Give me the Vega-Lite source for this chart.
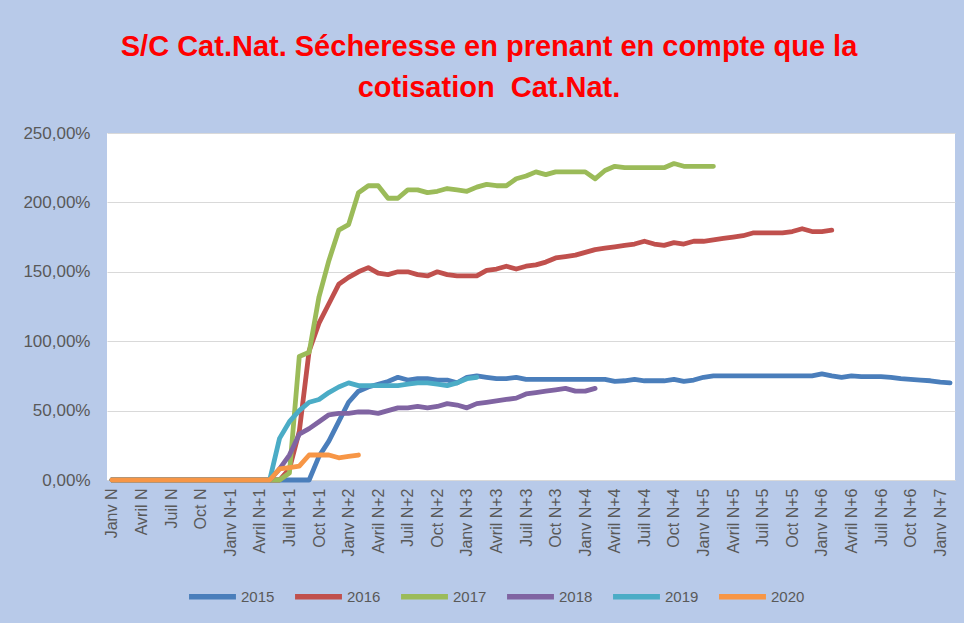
{
  "$schema": "https://vega.github.io/schema/vega-lite/v6.json",
  "width": 848,
  "height": 347,
  "autosize": {"type": "none"},
  "padding": {"left": 107, "top": 133, "right": 9, "bottom": 143},
  "background": "#b8cae9",
  "title": {
    "text": ["S/C Cat.Nat. Sécheresse en prenant en compte que la", "cotisation \u00a0Cat.Nat."],
    "anchor": "middle",
    "dx": -42,
    "offset": 21,
    "lineHeight": 41,
    "font": "Liberation Sans",
    "fontSize": 29,
    "fontWeight": "bold",
    "color": "#ff0000"
  },
  "data": {
    "values": [
      {"s":"2015","m":0,"v":0},{"s":"2015","m":1,"v":0},{"s":"2015","m":2,"v":0},{"s":"2015","m":3,"v":0},{"s":"2015","m":4,"v":0},{"s":"2015","m":5,"v":0},{"s":"2015","m":6,"v":0},{"s":"2015","m":7,"v":0},{"s":"2015","m":8,"v":0},{"s":"2015","m":9,"v":0},{"s":"2015","m":10,"v":0},{"s":"2015","m":11,"v":0},{"s":"2015","m":12,"v":0},{"s":"2015","m":13,"v":0},{"s":"2015","m":14,"v":0},{"s":"2015","m":15,"v":0},{"s":"2015","m":16,"v":0},{"s":"2015","m":17,"v":0},{"s":"2015","m":18,"v":0},{"s":"2015","m":19,"v":0},{"s":"2015","m":20,"v":0},
      {"s":"2015","m":21,"v":17},{"s":"2015","m":22,"v":28},{"s":"2015","m":23,"v":42},{"s":"2015","m":24,"v":56},{"s":"2015","m":25,"v":64},{"s":"2015","m":26,"v":67},{"s":"2015","m":27,"v":69},{"s":"2015","m":28,"v":71},{"s":"2015","m":29,"v":74},{"s":"2015","m":30,"v":72},
      {"s":"2015","m":31,"v":73},{"s":"2015","m":32,"v":73},{"s":"2015","m":33,"v":72},{"s":"2015","m":34,"v":72},{"s":"2015","m":35,"v":70},{"s":"2015","m":36,"v":74},{"s":"2015","m":37,"v":75},{"s":"2015","m":38,"v":74},{"s":"2015","m":39,"v":73},{"s":"2015","m":40,"v":73},
      {"s":"2015","m":41,"v":74},{"s":"2015","m":42,"v":72.5},{"s":"2015","m":43,"v":72.5},{"s":"2015","m":44,"v":72.5},{"s":"2015","m":45,"v":72.5},{"s":"2015","m":46,"v":72.5},{"s":"2015","m":47,"v":72.5},{"s":"2015","m":48,"v":72.5},{"s":"2015","m":49,"v":72.5},{"s":"2015","m":50,"v":72.5},
      {"s":"2015","m":51,"v":71},{"s":"2015","m":52,"v":71.5},{"s":"2015","m":53,"v":72.5},{"s":"2015","m":54,"v":71.5},{"s":"2015","m":55,"v":71.5},{"s":"2015","m":56,"v":71.5},{"s":"2015","m":57,"v":72.5},{"s":"2015","m":58,"v":71},{"s":"2015","m":59,"v":72},{"s":"2015","m":60,"v":74},
      {"s":"2015","m":61,"v":75},{"s":"2015","m":62,"v":75},{"s":"2015","m":63,"v":75},{"s":"2015","m":64,"v":75},{"s":"2015","m":65,"v":75},{"s":"2015","m":66,"v":75},{"s":"2015","m":67,"v":75},{"s":"2015","m":68,"v":75},{"s":"2015","m":69,"v":75},{"s":"2015","m":70,"v":75},
      {"s":"2015","m":71,"v":75},{"s":"2015","m":72,"v":76.5},{"s":"2015","m":73,"v":75},{"s":"2015","m":74,"v":74},{"s":"2015","m":75,"v":75},{"s":"2015","m":76,"v":74.5},{"s":"2015","m":77,"v":74.5},{"s":"2015","m":78,"v":74.5},{"s":"2015","m":79,"v":74},{"s":"2015","m":80,"v":73},
      {"s":"2015","m":81,"v":72.5},{"s":"2015","m":82,"v":72},{"s":"2015","m":83,"v":71.5},{"s":"2015","m":84,"v":70.5},{"s":"2015","m":85,"v":70},

      {"s":"2016","m":0,"v":0},{"s":"2016","m":1,"v":0},{"s":"2016","m":2,"v":0},{"s":"2016","m":3,"v":0},{"s":"2016","m":4,"v":0},{"s":"2016","m":5,"v":0},{"s":"2016","m":6,"v":0},{"s":"2016","m":7,"v":0},{"s":"2016","m":8,"v":0},{"s":"2016","m":9,"v":0},{"s":"2016","m":10,"v":0},{"s":"2016","m":11,"v":0},{"s":"2016","m":12,"v":0},{"s":"2016","m":13,"v":0},{"s":"2016","m":14,"v":0},{"s":"2016","m":15,"v":0},{"s":"2016","m":16,"v":0},{"s":"2016","m":17,"v":0},
      {"s":"2016","m":18,"v":8},{"s":"2016","m":19,"v":35},{"s":"2016","m":20,"v":93},{"s":"2016","m":21,"v":113},{"s":"2016","m":22,"v":127},{"s":"2016","m":23,"v":141},{"s":"2016","m":24,"v":146},{"s":"2016","m":25,"v":150},{"s":"2016","m":26,"v":153},{"s":"2016","m":27,"v":149},
      {"s":"2016","m":28,"v":148},{"s":"2016","m":29,"v":150},{"s":"2016","m":30,"v":150},{"s":"2016","m":31,"v":148},{"s":"2016","m":32,"v":147},{"s":"2016","m":33,"v":150},{"s":"2016","m":34,"v":148},{"s":"2016","m":35,"v":147},{"s":"2016","m":36,"v":147},{"s":"2016","m":37,"v":147},
      {"s":"2016","m":38,"v":151},{"s":"2016","m":39,"v":152},{"s":"2016","m":40,"v":154},{"s":"2016","m":41,"v":152},{"s":"2016","m":42,"v":154},{"s":"2016","m":43,"v":155},{"s":"2016","m":44,"v":157},{"s":"2016","m":45,"v":160},{"s":"2016","m":46,"v":161},{"s":"2016","m":47,"v":162},
      {"s":"2016","m":48,"v":164},{"s":"2016","m":49,"v":166},{"s":"2016","m":50,"v":167},{"s":"2016","m":51,"v":168},{"s":"2016","m":52,"v":169},{"s":"2016","m":53,"v":170},{"s":"2016","m":54,"v":172},{"s":"2016","m":55,"v":170},{"s":"2016","m":56,"v":169},{"s":"2016","m":57,"v":171},
      {"s":"2016","m":58,"v":170},{"s":"2016","m":59,"v":172},{"s":"2016","m":60,"v":172},{"s":"2016","m":61,"v":173},{"s":"2016","m":62,"v":174},{"s":"2016","m":63,"v":175},{"s":"2016","m":64,"v":176},{"s":"2016","m":65,"v":178},{"s":"2016","m":66,"v":178},{"s":"2016","m":67,"v":178},
      {"s":"2016","m":68,"v":178},{"s":"2016","m":69,"v":179},{"s":"2016","m":70,"v":181},{"s":"2016","m":71,"v":179},{"s":"2016","m":72,"v":179},{"s":"2016","m":73,"v":180},

      {"s":"2017","m":0,"v":0},{"s":"2017","m":1,"v":0},{"s":"2017","m":2,"v":0},{"s":"2017","m":3,"v":0},{"s":"2017","m":4,"v":0},{"s":"2017","m":5,"v":0},{"s":"2017","m":6,"v":0},{"s":"2017","m":7,"v":0},{"s":"2017","m":8,"v":0},{"s":"2017","m":9,"v":0},{"s":"2017","m":10,"v":0},{"s":"2017","m":11,"v":0},{"s":"2017","m":12,"v":0},{"s":"2017","m":13,"v":0},{"s":"2017","m":14,"v":0},{"s":"2017","m":15,"v":0},{"s":"2017","m":16,"v":0},{"s":"2017","m":17,"v":0},
      {"s":"2017","m":18,"v":5},{"s":"2017","m":19,"v":89},{"s":"2017","m":20,"v":92},{"s":"2017","m":21,"v":132},{"s":"2017","m":22,"v":158},{"s":"2017","m":23,"v":180},{"s":"2017","m":24,"v":184},{"s":"2017","m":25,"v":207},{"s":"2017","m":26,"v":212},{"s":"2017","m":27,"v":212},
      {"s":"2017","m":28,"v":203},{"s":"2017","m":29,"v":203},{"s":"2017","m":30,"v":209},{"s":"2017","m":31,"v":209},{"s":"2017","m":32,"v":207},{"s":"2017","m":33,"v":208},{"s":"2017","m":34,"v":210},{"s":"2017","m":35,"v":209},{"s":"2017","m":36,"v":208},{"s":"2017","m":37,"v":211},
      {"s":"2017","m":38,"v":213},{"s":"2017","m":39,"v":212},{"s":"2017","m":40,"v":212},{"s":"2017","m":41,"v":217},{"s":"2017","m":42,"v":219},{"s":"2017","m":43,"v":222},{"s":"2017","m":44,"v":220},{"s":"2017","m":45,"v":222},{"s":"2017","m":46,"v":222},{"s":"2017","m":47,"v":222},
      {"s":"2017","m":48,"v":222},{"s":"2017","m":49,"v":217},{"s":"2017","m":50,"v":223},{"s":"2017","m":51,"v":226},{"s":"2017","m":52,"v":225},{"s":"2017","m":53,"v":225},{"s":"2017","m":54,"v":225},{"s":"2017","m":55,"v":225},{"s":"2017","m":56,"v":225},{"s":"2017","m":57,"v":228},
      {"s":"2017","m":58,"v":226},{"s":"2017","m":59,"v":226},{"s":"2017","m":60,"v":226},{"s":"2017","m":61,"v":226},

      {"s":"2018","m":0,"v":0},{"s":"2018","m":1,"v":0},{"s":"2018","m":2,"v":0},{"s":"2018","m":3,"v":0},{"s":"2018","m":4,"v":0},{"s":"2018","m":5,"v":0},{"s":"2018","m":6,"v":0},{"s":"2018","m":7,"v":0},{"s":"2018","m":8,"v":0},{"s":"2018","m":9,"v":0},{"s":"2018","m":10,"v":0},{"s":"2018","m":11,"v":0},{"s":"2018","m":12,"v":0},{"s":"2018","m":13,"v":0},{"s":"2018","m":14,"v":0},{"s":"2018","m":15,"v":0},{"s":"2018","m":16,"v":0},
      {"s":"2018","m":17,"v":8},{"s":"2018","m":18,"v":18},{"s":"2018","m":19,"v":33},{"s":"2018","m":20,"v":37},{"s":"2018","m":21,"v":42},{"s":"2018","m":22,"v":47},{"s":"2018","m":23,"v":48},{"s":"2018","m":24,"v":48},{"s":"2018","m":25,"v":49},{"s":"2018","m":26,"v":49},
      {"s":"2018","m":27,"v":48},{"s":"2018","m":28,"v":50},{"s":"2018","m":29,"v":52},{"s":"2018","m":30,"v":52},{"s":"2018","m":31,"v":53},{"s":"2018","m":32,"v":52},{"s":"2018","m":33,"v":53},{"s":"2018","m":34,"v":55},{"s":"2018","m":35,"v":54},{"s":"2018","m":36,"v":52},
      {"s":"2018","m":37,"v":55},{"s":"2018","m":38,"v":56},{"s":"2018","m":39,"v":57},{"s":"2018","m":40,"v":58},{"s":"2018","m":41,"v":59},{"s":"2018","m":42,"v":62},{"s":"2018","m":43,"v":63},{"s":"2018","m":44,"v":64},{"s":"2018","m":45,"v":65},{"s":"2018","m":46,"v":66},
      {"s":"2018","m":47,"v":64},{"s":"2018","m":48,"v":64},{"s":"2018","m":49,"v":66},

      {"s":"2019","m":0,"v":0},{"s":"2019","m":1,"v":0},{"s":"2019","m":2,"v":0},{"s":"2019","m":3,"v":0},{"s":"2019","m":4,"v":0},{"s":"2019","m":5,"v":0},{"s":"2019","m":6,"v":0},{"s":"2019","m":7,"v":0},{"s":"2019","m":8,"v":0},{"s":"2019","m":9,"v":0},{"s":"2019","m":10,"v":0},{"s":"2019","m":11,"v":0},{"s":"2019","m":12,"v":0},{"s":"2019","m":13,"v":0},{"s":"2019","m":14,"v":0},{"s":"2019","m":15,"v":0},{"s":"2019","m":16,"v":0},
      {"s":"2019","m":17,"v":30},{"s":"2019","m":18,"v":42},{"s":"2019","m":19,"v":50},{"s":"2019","m":20,"v":56},{"s":"2019","m":21,"v":58},{"s":"2019","m":22,"v":63},{"s":"2019","m":23,"v":67},{"s":"2019","m":24,"v":70},{"s":"2019","m":25,"v":68},{"s":"2019","m":26,"v":68},
      {"s":"2019","m":27,"v":68},{"s":"2019","m":28,"v":68},{"s":"2019","m":29,"v":68},{"s":"2019","m":30,"v":69},{"s":"2019","m":31,"v":70},{"s":"2019","m":32,"v":70},{"s":"2019","m":33,"v":69},{"s":"2019","m":34,"v":68},{"s":"2019","m":35,"v":70},{"s":"2019","m":36,"v":73},
      {"s":"2019","m":37,"v":74},

      {"s":"2020","m":0,"v":0},{"s":"2020","m":1,"v":0},{"s":"2020","m":2,"v":0},{"s":"2020","m":3,"v":0},{"s":"2020","m":4,"v":0},{"s":"2020","m":5,"v":0},{"s":"2020","m":6,"v":0},{"s":"2020","m":7,"v":0},{"s":"2020","m":8,"v":0},{"s":"2020","m":9,"v":0},{"s":"2020","m":10,"v":0},{"s":"2020","m":11,"v":0},{"s":"2020","m":12,"v":0},{"s":"2020","m":13,"v":0},{"s":"2020","m":14,"v":0},{"s":"2020","m":15,"v":0},{"s":"2020","m":16,"v":0},
      {"s":"2020","m":17,"v":8},{"s":"2020","m":18,"v":9},{"s":"2020","m":19,"v":10},{"s":"2020","m":20,"v":18},{"s":"2020","m":21,"v":18},{"s":"2020","m":22,"v":18},{"s":"2020","m":23,"v":16},{"s":"2020","m":24,"v":17},{"s":"2020","m":25,"v":18}
    ]
  },
  "mark": {"type": "line", "strokeWidth": 4.8, "strokeCap": "round", "strokeJoin": "round"},
  "encoding": {
    "x": {
      "field": "m",
      "type": "quantitative",
      "scale": {"domain": [-0.5, 85.5], "nice": false, "zero": false},
      "axis": {
        "title": null,
        "values": [0,3,6,9,12,15,18,21,24,27,30,33,36,39,42,45,48,51,54,57,60,63,66,69,72,75,78,81,84],
        "labelExpr": "['Janv','Avril','Juil','Oct'][floor((datum.value % 12) / 3)] + ' N' + (floor(datum.value / 12) > 0 ? '+' + floor(datum.value / 12) : '')",
        "labelAngle": -90,
        "labelFont": "Liberation Sans",
        "labelFontSize": 16,
        "labelColor": "#595959",
        "labelPadding": 8,
        "labelOverlap": false,
        "labelFlush": false,
        "ticks": false,
        "grid": false,
        "domainColor": "#d9d9d9"
      }
    },
    "y": {
      "field": "v",
      "type": "quantitative",
      "scale": {"domain": [0, 250], "nice": false},
      "axis": {
        "title": null,
        "values": [0, 50, 100, 150, 200, 250],
        "labelExpr": "replace(format(datum.value, '.2f'), '.', ',') + '%'",
        "labelFont": "Liberation Sans",
        "labelFontSize": 17,
        "labelColor": "#595959",
        "labelPadding": 17,
        "ticks": false,
        "domain": false,
        "gridColor": "#d9d9d9",
        "gridWidth": 1
      }
    },
    "color": {
      "field": "s",
      "type": "nominal",
      "scale": {
        "domain": ["2015", "2016", "2017", "2018", "2019", "2020"],
        "range": ["#4a7ebb", "#c0504d", "#9bbb59", "#8064a2", "#4bacc6", "#f79646"]
      },
      "legend": {
        "title": null,
        "orient": "none",
        "direction": "horizontal",
        "legendX": 79,
        "legendY": 437,
        "symbolType": "stroke",
        "symbolSize": 2200,
        "symbolStrokeWidth": 5.5,
        "labelFont": "Liberation Sans",
        "labelFontSize": 15,
        "labelColor": "#595959",
        "labelOffset": 2,
        "columnPadding": 9
      }
    }
  },
  "config": {
    "view": {"fill": "white", "stroke": null}
  }
}
